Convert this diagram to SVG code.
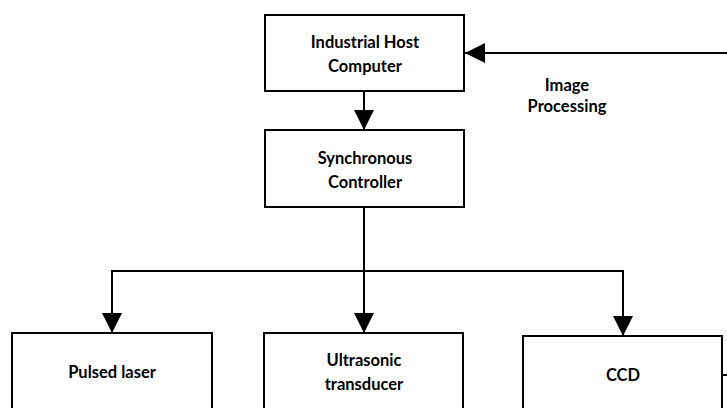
<svg xmlns="http://www.w3.org/2000/svg" width="727" height="408" viewBox="0 0 727 408">
  <style>
    .box { fill: #ffffff; stroke: #000000; stroke-width: 2; }
    .wire { fill: none; stroke: #000000; stroke-width: 2; marker-end: url(#head); }
    .plain { fill: none; stroke: #000000; stroke-width: 2; }
    text { font-family: Lato, "Liberation Sans", sans-serif; font-weight: bold; font-size: 16.5px; fill: #000000; text-anchor: middle; }
  </style>
  <defs>
    <marker id="head" markerUnits="userSpaceOnUse" markerWidth="20" markerHeight="20" refX="20" refY="10" orient="auto">
      <path d="M0,0 L20,10 L0,20 z" fill="#000000"/>
    </marker>
  </defs>
  <rect width="727" height="408" fill="#ffffff"/>

  <g id="connectors">
    <path class="wire" d="M727,53 H465"/>
    <path class="wire" d="M364,91 V130"/>
    <path class="wire" d="M364,207 V333"/>
    <path class="wire" d="M364,271 H112 V333"/>
    <path class="wire" d="M364,271 H623 V336"/>
    <path class="plain" d="M722,375 H727"/>
  </g>

  <g id="host">
    <rect class="box" x="265" y="15" width="199" height="76"/>
    <text x="365" y="48">Industrial Host</text>
    <text x="365" y="72">Computer</text>
  </g>

  <g id="image-processing">
    <text x="567" y="91">Image</text>
    <text x="567" y="112">Processing</text>
  </g>

  <g id="controller">
    <rect class="box" x="265" y="130" width="199" height="77"/>
    <text x="365" y="164">Synchronous</text>
    <text x="365" y="188">Controller</text>
  </g>

  <g id="laser">
    <rect class="box" x="12" y="333" width="200" height="90"/>
    <text x="112" y="378">Pulsed laser</text>
  </g>

  <g id="transducer">
    <rect class="box" x="264" y="333" width="199" height="90"/>
    <text x="364" y="366">Ultrasonic</text>
    <text x="364" y="390">transducer</text>
  </g>

  <g id="ccd">
    <rect class="box" x="523" y="336" width="199" height="90"/>
    <text x="623" y="381">CCD</text>
  </g>
</svg>
